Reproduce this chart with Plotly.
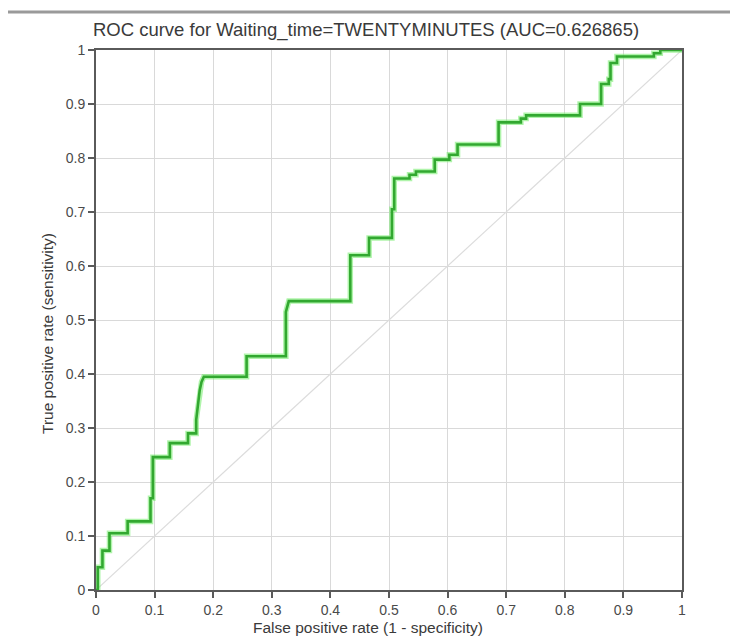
import plotly.graph_objects as go

# ROC curve points (false positive rate, true positive rate)
fpr = [0, 0.003, 0.003, 0.011, 0.011, 0.023, 0.023, 0.054, 0.054, 0.093, 0.093,
       0.097, 0.097, 0.126, 0.126, 0.157, 0.157, 0.171, 0.171, 0.174, 0.177, 0.180,
       0.184, 0.257, 0.257, 0.324, 0.324, 0.329, 0.434, 0.434, 0.466, 0.466, 0.505,
       0.505, 0.509, 0.509, 0.535, 0.535, 0.546, 0.546, 0.578, 0.578, 0.603, 0.603,
       0.617, 0.617, 0.687, 0.687, 0.725, 0.725, 0.734, 0.734, 0.826, 0.826, 0.862,
       0.862, 0.875, 0.875, 0.878, 0.878, 0.889, 0.889, 0.952, 0.952, 0.963, 0.963,
       1.0]
tpr = [0, 0, 0.042, 0.042, 0.073, 0.073, 0.105, 0.105, 0.127, 0.127, 0.170,
       0.170, 0.246, 0.246, 0.272, 0.272, 0.290, 0.290, 0.315, 0.345, 0.370, 0.385,
       0.395, 0.395, 0.433, 0.433, 0.515, 0.535, 0.535, 0.620, 0.620, 0.652, 0.652,
       0.705, 0.705, 0.762, 0.762, 0.769, 0.769, 0.775, 0.775, 0.797, 0.797, 0.806,
       0.806, 0.825, 0.825, 0.866, 0.866, 0.873, 0.873, 0.879, 0.879, 0.900, 0.900,
       0.937, 0.937, 0.946, 0.946, 0.976, 0.976, 0.988, 0.988, 0.994, 0.994, 1.0,
       1.0]

# Chance line
chance_x = [0, 1]
chance_y = [0, 1]

tick_vals = [0, 0.1, 0.2, 0.3, 0.4, 0.5, 0.6, 0.7, 0.8, 0.9, 1]
tick_text = ["0", "0.1", "0.2", "0.3", "0.4", "0.5", "0.6", "0.7", "0.8", "0.9", "1"]

title_text = "ROC curve for Waiting_time=TWENTYMINUTES (AUC=0.626865)"
x_title = "False positive rate (1 - specificity)"
y_title = "True positive rate (sensitivity)"

FONT = "Liberation Sans, Arial, sans-serif"

# plot area in pixels
L, R, T, B = 96, 48, 50, 46
W, H = 730, 636
PW, PH = W - L - R, H - T - B

fig = go.Figure()
fig.add_trace(go.Scatter(x=chance_x, y=chance_y, mode="lines",
                         line=dict(color="#dcdcdc", width=1.2),
                         hoverinfo="skip", showlegend=False))
# soft glow under the curve
fig.add_trace(go.Scatter(x=fpr, y=tpr, mode="lines",
                         line=dict(color="rgba(110,235,100,0.55)", width=5.5),
                         hoverinfo="skip", showlegend=False))
fig.add_trace(go.Scatter(x=fpr, y=tpr, mode="lines",
                         line=dict(color="rgb(50,168,48)", width=2.6),
                         showlegend=False))

axis_common = dict(
    range=[0, 1],
    tickvals=tick_vals,
    ticktext=tick_text,
    showgrid=True,
    gridcolor="#d9d9d9",
    gridwidth=1,
    zeroline=False,
    showline=True,
    linecolor="#5a5a5a",
    linewidth=2,
    mirror=True,
    ticks="outside",
    ticklen=6,
    tickwidth=1.5,
    tickcolor="#5a5a5a",
    tickfont=dict(family=FONT, size=14, color="#4a4a4a"),
    automargin=False,
    fixedrange=True,
)

fig.update_layout(
    width=W,
    height=H,
    margin=dict(l=L, r=R, t=T, b=B, autoexpand=False),
    paper_bgcolor="white",
    plot_bgcolor="white",
    title=dict(text=title_text, x=366 / W, xanchor="center",
               y=1 - 30 / H, yanchor="middle",
               font=dict(family=FONT, size=18.5, color="#3a3a3a")),
    xaxis=dict(**axis_common),
    yaxis=dict(**axis_common),
    annotations=[
        dict(text=x_title, xref="paper", yref="paper",
             x=(368 - L) / PW, y=(H - B - 627) / PH,
             xanchor="center", yanchor="middle", showarrow=False,
             font=dict(family=FONT, size=15.5, color="#3a3a3a")),
        dict(text=y_title, xref="paper", yref="paper",
             x=(47 - L) / PW, y=(H - B - 334) / PH, textangle=-90,
             xanchor="center", yanchor="middle", showarrow=False,
             font=dict(family=FONT, size=15.5, color="#3a3a3a")),
    ],
    shapes=[dict(type="line", xref="paper", yref="paper",
                 x0=(8 - L) / PW, x1=(W - L) / PW,
                 y0=(H - B - 12) / PH, y1=(H - B - 12) / PH,
                 line=dict(color="#9a9a9a", width=3))],
)

fig.write_html("out.html")
